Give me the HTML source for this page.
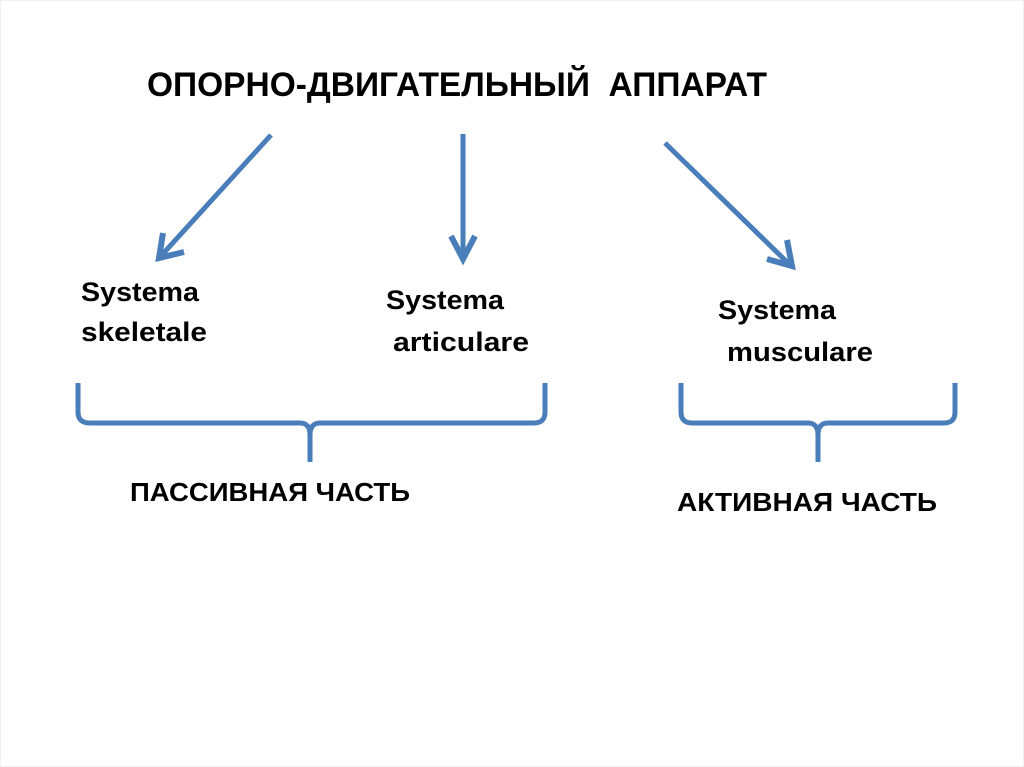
<!DOCTYPE html>
<html><head><meta charset="utf-8"><style>
html,body{margin:0;padding:0;background:#fff;}
svg{display:block;}
text{font-family:"Liberation Sans",sans-serif;font-weight:bold;fill:#000;}
</style></head><body>
<svg width="1024" height="767" viewBox="0 0 1024 767" xmlns="http://www.w3.org/2000/svg">
<rect x="0.5" y="0.5" width="1023" height="766" fill="#fff" stroke="#f0f0f0"/>
<text x="147" y="96" font-size="34" textLength="620" lengthAdjust="spacingAndGlyphs">ОПОРНО-ДВИГАТЕЛЬНЫЙ&#160;&#160;АППАРАТ</text>
<g stroke="#4a7ebb" stroke-width="5" fill="none" stroke-linecap="butt" stroke-linejoin="miter">
<line x1="271" y1="135" x2="160" y2="257"/>
<polyline points="163,233 159,258 184,252" stroke-width="6"/>
<line x1="463" y1="134" x2="463" y2="259"/>
<polyline points="451,236 463,259 475,236" stroke-width="6"/>
<line x1="665" y1="143" x2="790" y2="265"/>
<polyline points="767,259 792,266 787,240" stroke-width="6"/>
<path d="M78,383 L78,412 Q78,423 90,423 L300,423 Q310,423 310,435 L310,462 M310,435 Q310,423 320,423 L534,423 Q545,423 545,412 L545,383"/>
<path d="M681,383 L681,412 Q681,423 692,423 L808,423 Q818,423 818,435 L818,462 M818,435 Q818,423 828,423 L944,423 Q955,423 955,412 L955,383"/>
</g>
<text x="81" y="301" font-size="27" textLength="118" lengthAdjust="spacingAndGlyphs">Systema</text>
<text x="81" y="341" font-size="27" textLength="126" lengthAdjust="spacingAndGlyphs">skeletale</text>
<text x="386" y="309" font-size="27" textLength="118" lengthAdjust="spacingAndGlyphs">Systema</text>
<text x="393" y="351" font-size="27" textLength="136" lengthAdjust="spacingAndGlyphs">articulare</text>
<text x="718" y="319" font-size="27" textLength="118" lengthAdjust="spacingAndGlyphs">Systema</text>
<text x="727" y="361" font-size="27" textLength="146" lengthAdjust="spacingAndGlyphs">musculare</text>
<text x="130" y="501" font-size="26" textLength="280" lengthAdjust="spacingAndGlyphs">ПАССИВНАЯ ЧАСТЬ</text>
<text x="677" y="511" font-size="26" textLength="260" lengthAdjust="spacingAndGlyphs">АКТИВНАЯ ЧАСТЬ</text>
</svg>
</body></html>
